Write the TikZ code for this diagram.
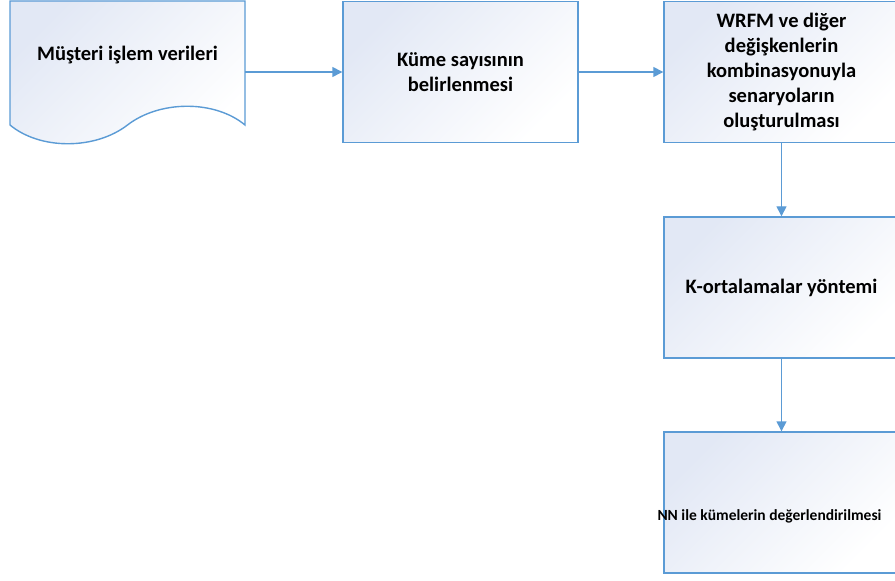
\documentclass[tikz,border=0pt]{standalone}
\usepackage{fontspec}
\setmainfont{Carlito}
\usetikzlibrary{arrows.meta}
\definecolor{edgeblue}{RGB}{91,155,213}
\definecolor{shadetop}{RGB}{226,232,245}
\tikzset{
  boxshade/.style={draw=edgeblue, line width=1.4bp, top color=shadetop, bottom color=white, shading angle=45},
  stepbox/.style={boxshade, rectangle, minimum width=235bp, minimum height=141bp, inner sep=0pt},
  bigtext/.style={font=\bfseries\fontsize{20.5bp}{25bp}\selectfont, align=center, text=black},
  smalltext/.style={font=\bfseries\fontsize{15.5bp}{19bp}\selectfont, align=center, text=black},
  flow/.style={draw=edgeblue, line width=1.4bp, -{Triangle[length=10bp,width=10bp]}}
}
\begin{document}
\begin{tikzpicture}[x=1bp,y=-1bp]
\useasboundingbox (0,0) rectangle (895,581);
\clip (0,0) rectangle (895,581);
% document shape
\path[boxshade] (10,1) -- (245,1) -- (245,125)
  .. controls (215,100) and (160,100) .. (127.5,125)
  .. controls (95,150) and (40,150) .. (10,125) -- cycle;
\node[bigtext] (doc) at (127.5,55) {Müşteri işlem verileri};
\coordinate (docout) at (245,72);
\node[stepbox, bigtext] (b2) at (460.5,72) {Küme sayısının\\belirlenmesi};
\node[stepbox, bigtext] (b3) at (781.5,72) {WRFM ve diğer\\değişkenlerin\\kombinasyonuyla\\senaryoların\\oluşturulması};
\node[stepbox, bigtext] (b4) at (781.5,287.5) {\raisebox{-2.5bp}{K-ortalamalar yöntemi}};
\node[stepbox] (b5) at (781.5,502.5) {};
\node[smalltext] (t5) at (769.5,516) {NN ile kümelerin değerlendirilmesi};
\draw[flow] (docout) -- (b2.west);
\draw[flow] (b2.east) -- (b2.east -| b3.west);
\draw[flow] (b3.south) -- (b4.north);
\draw[flow] (b4.south) -- (b5.north);
\end{tikzpicture}
\end{document}
